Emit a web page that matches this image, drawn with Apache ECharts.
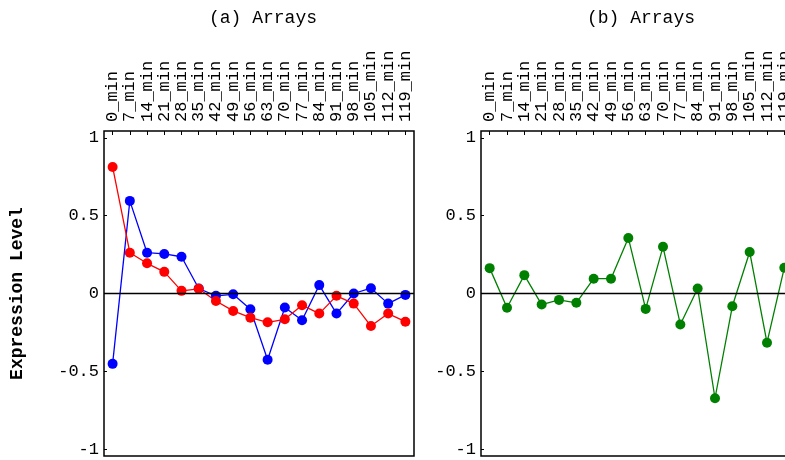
<!DOCTYPE html>
<html>
<head>
<meta charset="utf-8">
<script src="https://cdn.jsdelivr.net/npm/echarts@6/dist/echarts.min.js"></script>
<style>html,body{margin:0;padding:0;background:#fff}#c{width:785px;height:460px}</style>
</head>
<body>
<div id="c"></div>
<script>
var categories = ['0_min','7_min','14_min','21_min','28_min','35_min','42_min','49_min','56_min','63_min','70_min','77_min','84_min','91_min','98_min','105_min','112_min','119_min'];
var redValues = [0.813,0.262,0.194,0.139,0.017,0.030,-0.048,-0.112,-0.155,-0.185,-0.166,-0.075,-0.129,-0.015,-0.065,-0.209,-0.129,-0.181];
var blueValues = [-0.452,0.595,0.262,0.254,0.236,0.032,-0.015,-0.005,-0.101,-0.426,-0.090,-0.172,0.054,-0.129,0.000,0.034,-0.065,-0.009];
var greenValues = [0.163,-0.092,0.118,-0.071,-0.041,-0.060,0.095,0.095,0.357,-0.099,0.300,-0.199,0.032,-0.673,-0.082,0.267,-0.316,0.166];
var yTicks = [-1,-0.5,0,0.5,1];
var titles = ['(a) Arrays','(b) Arrays'];
var yName = 'Expression Level';

var FONT = "'Liberation Mono','Courier New',monospace";
var chart = echarts.init(document.getElementById('c'), null, {renderer:'canvas'});

function xAx(gi){
  return {
    type:'category', gridIndex:gi, data:categories, position:'top', boundaryGap:true,
    axisLine:{show:false, onZero:false},
    axisTick:{show:true, inside:true, length:4, alignWithLabel:true, lineStyle:{color:'#000'}},
    axisLabel:{rotate:-90, interval:0, margin:9, fontFamily:FONT, fontSize:17, color:'#000'},
    splitLine:{show:false}
  };
}
function yAx(gi, withName){
  var o = {
    type:'value', gridIndex:gi, min:-1.044, max:1.044,
    axisLine:{show:false, onZero:false},
    axisTick:{show:true, inside:true, length:3, customValues:yTicks, lineStyle:{color:'#000'}},
    axisLabel:{customValues:yTicks, margin:5, fontFamily:FONT, fontSize:17, color:'#000',
      formatter:function(v){return String(v);}},
    splitLine:{show:false}
  };
  if(withName){
    o.name = yName; o.nameLocation='middle'; o.nameGap=78;
    o.nameTextStyle={fontFamily:FONT, fontSize:18, fontWeight:'bold', color:'#000'};
  }
  return o;
}
function ser(xi, vals, color, withZero){
  var s = {
    type:'line', xAxisIndex:xi, yAxisIndex:xi, data:vals,
    symbol:'circle', symbolSize:10, showSymbol:true,
    lineStyle:{color:color, width:1.3}, itemStyle:{color:color},
    animation:false, z:3
  };
  if(withZero){
    s.markLine = {silent:true, symbol:['none','none'], label:{show:false},
      lineStyle:{color:'#000', type:'solid', width:1.3}, data:[{yAxis:0}], animation:false};
  }
  return s;
}

chart.setOption({
  animation:false,
  backgroundColor:'#fff',
  title: titles.map(function(t,i){
    return {text:t, left:[258,636][i], top:4, textAlign:'center',
      textStyle:{fontFamily:FONT, fontSize:18, fontWeight:'normal', color:'#000'}};
  }),
  grid:[
    {left:104, top:131, width:310, height:325, show:true, borderColor:'#000', borderWidth:1.5, backgroundColor:'transparent', outerBoundsMode:'none', containLabel:false},
    {left:481, top:131, width:312, height:325, show:true, borderColor:'#000', borderWidth:1.5, backgroundColor:'transparent', outerBoundsMode:'none', containLabel:false}
  ],
  xAxis:[xAx(0), xAx(1)],
  yAxis:[yAx(0,true), yAx(1,false)],
  series:[
    ser(0, blueValues, '#0000ff', true),
    ser(0, redValues, '#ff0000', false),
    ser(1, greenValues, '#008000', true)
  ]
});
</script>
</body>
</html>
